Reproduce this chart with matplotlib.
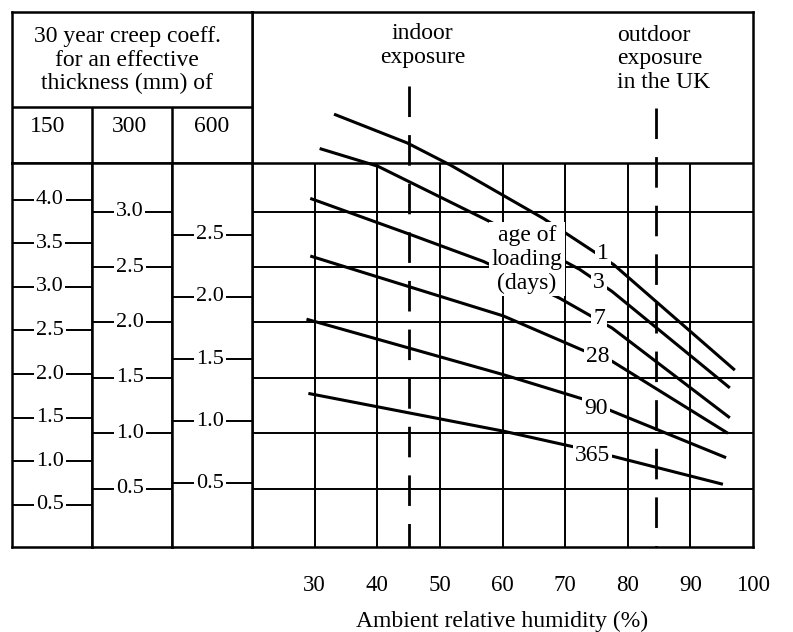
import matplotlib
matplotlib.use('Agg')
import matplotlib.pyplot as plt

plt.rcParams['font.family'] = ['Liberation Serif', 'DejaVu Serif']
plt.rcParams['font.size'] = 17

# --- data ---
humidity_ticks = [30, 40, 50, 60, 70, 80, 90, 100]
coeff_levels = [0.5, 1.0, 1.5, 2.0, 2.5, 3.0]   # grid, in the 300 mm scale

age_labels = ['1', '3', '7', '28', '90', '365']
rh_age1 = [33.1, 44.8, 51.7, 66.5, 77.8, 97.1]
cc_age1 = [3.88, 3.62, 3.42, 2.94, 2.52, 1.57]
rh_age3 = [30.8, 40.1, 58.0, 72.3, 77.5, 96.3]
cc_age3 = [3.57, 3.41, 2.91, 2.48, 2.28, 1.41]
rh_age7 = [29.3, 45.0, 57.0, 69.1, 77.5, 96.3]
cc_age7 = [3.12, 2.80, 2.55, 2.22, 1.95, 1.14]
rh_age28 = [29.3, 60.1, 72.8, 77.5, 96.0]
cc_age28 = [2.60, 2.06, 1.75, 1.65, 1.00]
rh_age90 = [28.7, 60.1, 72.8, 77.5, 95.7]
cc_age90 = [2.03, 1.53, 1.31, 1.20, 0.78]
rh_age365 = [29.0, 60.1, 71.2, 77.8, 95.2]
cc_age365 = [1.36, 1.02, 0.88, 0.79, 0.54]

label_rh = [76.0, 75.4, 75.4, 75.2, 74.9, 74.4]
label_cc = [2.62, 2.36, 2.04, 1.69, 1.22, 0.80]

indoor_rh = 45
outdoor_rh = 84.5

thickness = ['150', '300', '600']
ticks_150 = [0.5, 1.0, 1.5, 2.0, 2.5, 3.0, 3.5, 4.0]
ticks_300 = [0.5, 1.0, 1.5, 2.0, 2.5, 3.0]
ticks_600 = [0.5, 1.0, 1.5, 2.0, 2.5]

# --- layout (pixels of the 793x632 picture) ---
W, H = 793, 632
LW_GRID = 1.4
LW_FRAME = 1.8
LS = 1.16


def box(x0, y0, x1, y1):
    return [x0 / W, 1 - y1 / H, (x1 - x0) / W, (y1 - y0) / H]


fig = plt.figure(figsize=(W / 100, H / 100), dpi=100)

# main panel, y in the 300 mm coefficient scale
ax = fig.add_axes(box(252, 12, 753, 547))
y0, y1 = -0.026, 4.802
ax.set_xlim(20, 100)
ax.set_ylim(y0, y1)
div = 3.439
for s in ax.spines.values():
    s.set_linewidth(LW_FRAME)
ax.set_yticks([])
ax.set_xticks(humidity_ticks)
ax.tick_params(axis='x', length=0, pad=20, labelsize=16.5)
ax.set_xlabel('Ambient relative humidity (%)', labelpad=11)

ax.hlines(coeff_levels, 20, 100, color='k', lw=LW_GRID, zorder=1)
ax.hlines(div, 20, 100, color='k', lw=LW_FRAME, zorder=1)
ax.vlines(humidity_ticks[:-1], y0, div, color='k', lw=LW_GRID, zorder=1)

# exposure markers, drawn top-down so the dash pattern starts at the top
dash = (0, (11, 6.5))
ax.plot([indoor_rh, indoor_rh], [4.136, y0], color='k', lw=2.0, ls=dash,
        solid_capstyle='butt', zorder=2)
ax.plot([outdoor_rh, outdoor_rh], [3.936, y0], color='k', lw=2.0, ls=dash,
        solid_capstyle='butt', zorder=2)

curves = [(rh_age1, cc_age1), (rh_age3, cc_age3), (rh_age7, cc_age7),
          (rh_age28, cc_age28), (rh_age90, cc_age90), (rh_age365, cc_age365)]
for rh, cc in curves:
    ax.plot(rh, cc, color='k', lw=2.2, solid_capstyle='butt', zorder=3)

white = dict(fc='white', ec='none', pad=1.5)
for lab, x, y in zip(age_labels, label_rh, label_cc):
    ax.text(x, y, lab, ha='center', va='center', bbox=white, zorder=5)

ax.text(63.9, 2.57, 'age of\nloading\n(days)', ha='center', va='center',
        linespacing=LS, bbox=dict(fc='white', ec='none', pad=2.0), zorder=5)
ax.text(47.2, 4.50, 'indoor\nexposure', ha='center', va='center', linespacing=LS)
ax.text(78.3, 4.38, 'outdoor\nexposure\nin the UK', ha='left', va='center',
        linespacing=LS)

# left table header
hax = fig.add_axes(box(12, 12, 252, 163))
hax.set_xlim(0, 1)
hax.set_ylim(0, 1)
hax.set_xticks([])
hax.set_yticks([])
for s in hax.spines.values():
    s.set_linewidth(LW_FRAME)
hax.axhline(0.371, color='k', lw=LW_FRAME)
hax.vlines([1 / 3, 2 / 3], 0, 0.371, color='k', lw=LW_FRAME)
hax.text(0.48, 0.68, '30 year creep coeff.\nfor an effective\nthickness (mm) of',
         ha='center', va='center', linespacing=LS)
for xc, name in zip([0.15, 0.49, 0.83], thickness):
    hax.text(xc, 0.24, name, ha='center', va='center')

# thickness scales
col_x = [12, 92, 172, 252]
col_ticks = [ticks_150, ticks_300, ticks_600]
col_lims = [(0.014, 4.423), (-0.026, 3.439), (-0.011, 3.076)]
for i in range(3):
    cax = fig.add_axes(box(col_x[i], 163, col_x[i + 1], 547))
    cax.set_xlim(0, 1)
    cax.set_ylim(col_lims[i])
    cax.set_xticks([])
    cax.set_yticks([])
    for s in cax.spines.values():
        s.set_linewidth(LW_FRAME)
    for t in col_ticks[i]:
        cax.axhline(t, color='k', lw=LW_GRID, zorder=1)
        cax.text(0.47, t, f'{t:.1f}', ha='center', va='center', fontsize=16,
                 bbox=white, zorder=3)

fig.savefig('out.png', dpi=100)
